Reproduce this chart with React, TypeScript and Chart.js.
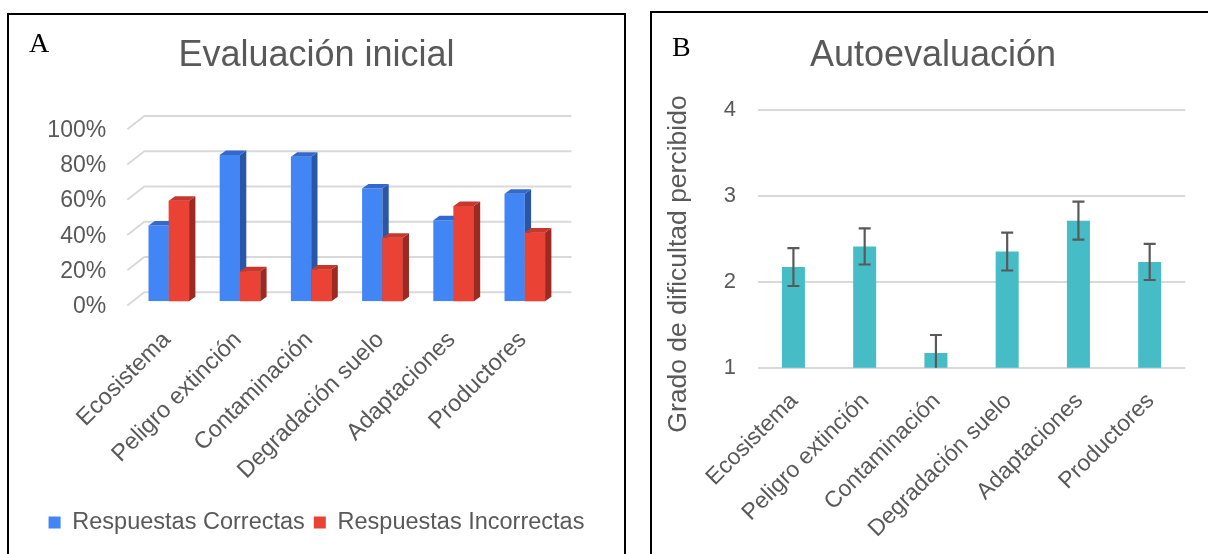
import React, { useEffect, useRef } from "react";
import { Chart, registerables } from "chart.js";

Chart.register(...registerables);

// ---------- data ----------
const categories = [
  "Ecosistema",
  "Peligro extinción",
  "Contaminación",
  "Degradación suelo",
  "Adaptaciones",
  "Productores",
];
const correctas = [43, 83, 82, 64, 46, 61];
const incorrectas = [57, 17, 18, 36, 54, 39];
const seriesNames = ["Respuestas Correctas", "Respuestas Incorrectas"];
const percentTickSuffix = "%";

const dificultad = [2.17, 2.41, 1.17, 2.35, 2.71, 2.23];
const errorDificultad = [0.22, 0.21, 0.21, 0.22, 0.22, 0.21];
const dificultadAxisTitle = "Grado de dificultad percibido";

const titleA = "Evaluación inicial";
const titleB = "Autoevaluación";

// ---------- style ----------
const SANS = "'Liberation Sans', Arial, sans-serif";
const SERIF = "'Liberation Serif', 'Times New Roman', serif";
const GREY = "#595959";
const GRID = "#d9d9d9";
const BLUE = "#4285F4";
const BLUE_SIDE = "#2a56a8";
const BLUE_TOP = "#3468cc";
const RED = "#EA4335";
const RED_SIDE = "#9c2a22";
const RED_TOP = "#c6382d";
const TEAL = "#46BDC6";

const D = { backDx: 11.1, backDy: 9, floorDx: 17, floorDy: 13.3, barDx: 6.3, barDy: 4.5 };

const grid3d = {
  id: "grid3d",
  beforeDatasetsDraw(chart: any) {
    const { ctx, chartArea } = chart;
    const y = chart.scales.y;
    ctx.save();
    ctx.strokeStyle = GRID;
    ctx.lineWidth = 2;
    y.ticks.forEach((t: any) => {
      const yb = y.getPixelForValue(t.value) - D.backDy;
      const xl = chartArea.left + D.backDx;
      const xr = chartArea.right + D.backDx;
      ctx.beginPath();
      ctx.moveTo(xl - D.floorDx, yb + D.floorDy);
      ctx.lineTo(xl, yb);
      ctx.lineTo(xr, yb);
      ctx.stroke();
    });
    ctx.restore();
  },
  afterDatasetsDraw(chart: any) {
    const ctx = chart.ctx;
    const faces = (el: any, side: string, top: string) => {
      const { x, y, base, width } = el.getProps(["x", "y", "base", "width"], true);
      const l = x - width / 2;
      const r = x + width / 2;
      ctx.fillStyle = side;
      ctx.beginPath();
      ctx.moveTo(r, y);
      ctx.lineTo(r + D.barDx, y - D.barDy);
      ctx.lineTo(r + D.barDx, base - D.barDy);
      ctx.lineTo(r, base);
      ctx.closePath();
      ctx.fill();
      ctx.fillStyle = top;
      ctx.beginPath();
      ctx.moveTo(l, y);
      ctx.lineTo(l + D.barDx, y - D.barDy);
      ctx.lineTo(r + D.barDx, y - D.barDy);
      ctx.lineTo(r, y);
      ctx.closePath();
      ctx.fill();
    };
    ctx.save();
    chart.getDatasetMeta(0).data.forEach((el: any) => faces(el, BLUE_SIDE, BLUE_TOP));
    chart.getDatasetMeta(1).data.forEach((el: any) => {
      el.draw(ctx);
      faces(el, RED_SIDE, RED_TOP);
    });
    ctx.restore();
  },
};

const panelLetter = (letter: string, x: number, y: number) => ({
  id: "letter" + letter,
  afterDraw(chart: any) {
    const ctx = chart.ctx;
    ctx.save();
    ctx.font = `28px ${SERIF}`;
    ctx.fillStyle = "#000";
    ctx.textAlign = "left";
    ctx.textBaseline = "alphabetic";
    ctx.fillText(letter, x, y);
    ctx.restore();
  },
});

const errorBars = {
  id: "errorBars",
  afterDatasetsDraw(chart: any) {
    const { ctx, chartArea } = chart;
    const y = chart.scales.y;
    ctx.save();
    ctx.beginPath();
    ctx.rect(chartArea.left, chartArea.top - 20, chartArea.right - chartArea.left, chartArea.bottom - chartArea.top + 20);
    ctx.clip();
    ctx.strokeStyle = GREY;
    ctx.lineWidth = 2.2;
    chart.getDatasetMeta(0).data.forEach((el: any, i: number) => {
      const v = dificultad[i];
      const e = errorDificultad[i];
      const yt = y.getPixelForValue(v + e);
      const yb = y.getPixelForValue(v - e);
      const x = el.x;
      ctx.beginPath();
      ctx.moveTo(x, yt);
      ctx.lineTo(x, yb);
      ctx.moveTo(x - 6, yt);
      ctx.lineTo(x + 6, yt);
      ctx.moveTo(x - 6, yb);
      ctx.lineTo(x + 6, yb);
      ctx.stroke();
    });
    ctx.restore();
  },
};

const yTitleB = {
  id: "yTitleB",
  afterDraw(chart: any) {
    const ctx = chart.ctx;
    ctx.save();
    ctx.translate(39, 264);
    ctx.rotate(-Math.PI / 2);
    ctx.font = `26.5px ${SANS}`;
    ctx.fillStyle = GREY;
    ctx.textAlign = "center";
    ctx.textBaseline = "middle";
    ctx.fillText(dificultadAxisTitle, 0, 0);
    ctx.restore();
  },
};

export default function App() {
  const refA = useRef<HTMLCanvasElement>(null);
  const refB = useRef<HTMLCanvasElement>(null);

  useEffect(() => {
    const chartA = new Chart(refA.current as HTMLCanvasElement, {
      type: "bar",
      data: {
        labels: categories,
        datasets: [
          { label: seriesNames[0], data: correctas, backgroundColor: BLUE, borderWidth: 0 },
          { label: seriesNames[1], data: incorrectas, backgroundColor: RED, borderWidth: 0 },
        ],
      },
      plugins: [grid3d, panelLetter("A", 29, 52)],
      options: {
        responsive: false,
        animation: false,
        devicePixelRatio: 1,
        layout: { padding: { left: 0, right: 0, top: 0, bottom: 9.8 } },
        datasets: { bar: { categoryPercentage: 0.57, barPercentage: 1.0 } },
        plugins: {
          tooltip: { enabled: false },
          title: {
            display: true,
            text: titleA,
            color: GREY,
            font: { family: SANS, size: 36, weight: "normal" },
            padding: { top: 34.9, bottom: 46.9 },
          },
          legend: {
            position: "bottom",
            labels: {
              color: GREY,
              font: { family: SANS, size: 23.5 },
              boxWidth: 12,
              boxHeight: 12,
              padding: 9,
            },
          },
        },
        scales: {
          x: {
            grid: { display: false },
            border: { display: false },
            ticks: {
              color: GREY,
              font: { family: SANS, size: 23.5 },
              minRotation: 45,
              maxRotation: 45,
              autoSkip: false,
              padding: 17,
              labelOffset: -2,
            },
            afterFit: (s: any) => {
              s.height = 200.5;
            },
          },
          y: {
            min: 0,
            max: 100,
            grid: { display: false, drawTicks: false },
            border: { display: false },
            ticks: {
              stepSize: 20,
              color: GREY,
              font: { family: SANS, size: 23 },
              padding: 27,
              labelOffset: 5.5,
              callback: (v: any) => `${v}${percentTickSuffix}`,
            },
            afterFit: (s: any) => {
              s.width = 133.2;
            },
          },
          yR: {
            position: "right",
            min: 0,
            max: 1,
            grid: { display: false, drawTicks: false },
            border: { display: false },
            ticks: { display: false },
            afterFit: (s: any) => {
              s.width = 72.6;
            },
          },
        },
      } as any,
    });

    const chartB = new Chart(refB.current as HTMLCanvasElement, {
      type: "bar",
      data: {
        labels: categories,
        datasets: [
          { label: dificultadAxisTitle, data: dificultad, backgroundColor: TEAL, borderWidth: 0 },
        ],
      },
      plugins: [errorBars, yTitleB, panelLetter("B", 32, 56)],
      options: {
        responsive: false,
        animation: false,
        devicePixelRatio: 1,
        layout: { padding: 0 },
        datasets: { bar: { categoryPercentage: 1.0, barPercentage: 0.323 } },
        plugins: {
          tooltip: { enabled: false },
          legend: { display: false },
          title: {
            display: true,
            text: titleB,
            color: GREY,
            font: { family: SANS, size: 36, weight: "normal" },
            padding: { top: 34.9, bottom: 31.6 },
          },
        },
        scales: {
          x: {
            grid: { display: false },
            border: { display: false },
            ticks: {
              color: GREY,
              font: { family: SANS, size: 23 },
              minRotation: 45,
              maxRotation: 45,
              autoSkip: false,
              padding: 12,
              labelOffset: 1,
            },
            afterFit: (s: any) => {
              s.height = 186.3;
            },
          },
          y: {
            min: 1,
            max: 4,
            grid: { color: GRID, lineWidth: 2, drawTicks: false },
            border: { display: false },
            ticks: {
              stepSize: 1,
              color: GREY,
              font: { family: SANS, size: 22 },
              padding: 21.8,
            },
            afterFit: (s: any) => {
              s.width = 117.8;
            },
          },
          yR: {
            position: "right",
            min: 0,
            max: 1,
            grid: { display: false, drawTicks: false },
            border: { display: false },
            ticks: { display: false },
            afterFit: (s: any) => {
              s.width = 40.7;
            },
          },
        },
      } as any,
    });

    return () => {
      chartA.destroy();
      chartB.destroy();
    };
  }, []);

  return (
    <div
      style={{
        position: "fixed",
        left: 0,
        top: 0,
        width: 1208,
        height: 554,
        overflow: "hidden",
        background: "#fff",
      }}
    >
      <canvas ref={refA} width={633} height={554} style={{ position: "absolute", left: 0, top: 0 }} />
      <canvas ref={refB} width={586} height={554} style={{ position: "absolute", left: 640, top: 0 }} />
      <div
        style={{
          position: "absolute",
          left: 7,
          top: 13,
          width: 619,
          height: 600,
          border: "2px solid #000",
          boxSizing: "border-box",
          pointerEvents: "none",
        }}
      />
      <div
        style={{
          position: "absolute",
          left: 650,
          top: 11,
          width: 600,
          height: 600,
          border: "2px solid #000",
          boxSizing: "border-box",
          pointerEvents: "none",
        }}
      />
    </div>
  );
}
